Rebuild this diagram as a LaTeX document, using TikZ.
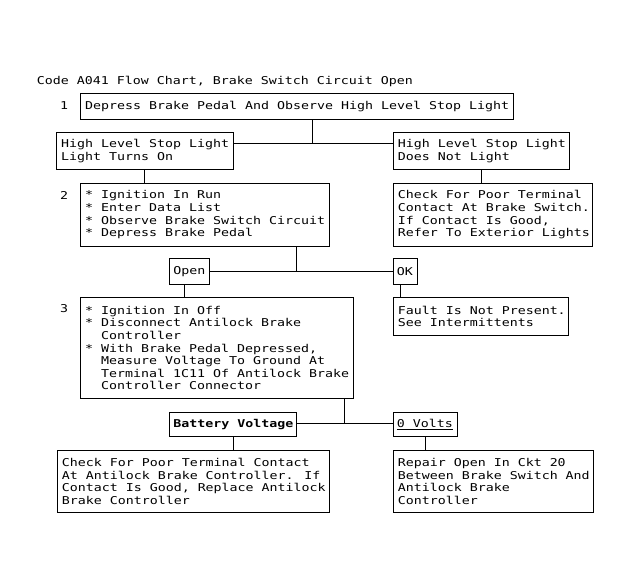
\documentclass[tikz,border=0pt]{standalone}
\usepackage{fontspec}
\newfontfamily\dfont[FakeStretch=1.23]{DejaVu Sans Mono}
\begin{document}
\begin{tikzpicture}[x=1pt,y=-1pt,
  box/.style={draw, line width=1pt, rectangle, inner sep=0pt, anchor=north west},
  txt/.style={font=\dfont\fontsize{10.8}{12.6}\selectfont, align=left, inner sep=0pt, anchor=west},
  wire/.style={line width=1pt}]
\useasboundingbox[fill=white] (0,0) rectangle (631,588);
% title and step numbers
\node[txt] (title) at (36.7,81) {Code A041 Flow Chart, Brake Switch Circuit Open};
\node[txt, anchor=center] (n1) at (64,106) {1};
\node[txt, anchor=center] (n2) at (64,195) {2};
\node[txt, anchor=center] (n3) at (64,309) {3};
% boxes
\node[box, minimum width=432.7, minimum height=26] (b1) at (80,93.3) {};
\node[box, minimum width=176.7, minimum height=37.6] (hl) at (56,131.7) {};
\node[box, minimum width=176.6, minimum height=37.6] (hr) at (392.7,131.7) {};
\node[box, minimum width=249, minimum height=63.3] (b2) at (80,182.7) {};
\node[box, minimum width=199.6, minimum height=63.3] (chk) at (392.7,182.7) {};
\node[box, minimum width=40, minimum height=26] (open) at (168.7,258.3) {};
\node[box, minimum width=24, minimum height=26] (ok) at (392.6,258.3) {};
\node[box, minimum width=273, minimum height=101.6] (b3) at (80,296.7) {};
\node[box, minimum width=175.7, minimum height=38.3] (fault) at (392.6,296.7) {};
\node[box, minimum width=127.7, minimum height=24.3] (batt) at (168.7,411.7) {};
\node[box, minimum width=64, minimum height=24.3] (zero) at (392.6,411.7) {};
\node[box, minimum width=272.4, minimum height=61.7] (bl) at (56.6,450) {};
\node[box, minimum width=200.4, minimum height=61.7] (br) at (392.6,450) {};
% texts
\node[txt] (t1) at ([xshift=5]b1.west) {Depress Brake Pedal And Observe High Level Stop Light};
\node[txt] (thl) at ([xshift=5]hl.west) {High Level Stop Light\\Light Turns On};
\node[txt] (thr) at ([xshift=5]hr.west) {High Level Stop Light\\Does Not Light};
\node[txt] (t2) at ([xshift=5]b2.west) {* Ignition In Run\\* Enter Data List\\* Observe Brake Switch Circuit\\* Depress Brake Pedal};
\node[txt] (tchk) at ([xshift=5]chk.west) {Check For Poor Terminal\\Contact At Brake Switch.\\If Contact Is Good,\\Refer To Exterior Lights};
\node[txt] (topen) at ([xshift=4.5]open.west) {Open};
\node[txt] (tok) at ([xshift=4]ok.west) {OK};
\node[txt] (t3) at ([xshift=5]b3.west) {* Ignition In Off\\* Disconnect Antilock Brake\\\hphantom{*\ }Controller\\* With Brake Pedal Depressed,\\\hphantom{*\ }Measure Voltage To Ground At\\\hphantom{*\ }Terminal 1C11 Of Antilock Brake\\\hphantom{*\ }Controller Connector};
\node[txt] (tfault) at ([xshift=5]fault.west) {Fault Is Not Present.\\See Intermittents};
\node[txt] (tbatt) at ([xshift=4.5]batt.west) {\bfseries Battery Voltage};
\node[txt] (tzero) at ([xshift=4]zero.west) {\underline{0 Volts}};
\node[txt] (tbl) at ([xshift=5]bl.west) {Check For Poor Terminal Contact\\At Antilock Brake Controller. If\\Contact Is Good, Replace Antilock\\Brake Controller};
\node[txt] (tbr) at ([xshift=5]br.west) {Repair Open In Ckt 20\\Between Brake Switch And\\Antilock Brake\\Controller};
% junctions
\coordinate (j1) at (312.3,144);
\coordinate (j2) at (296.4,271.7);
\coordinate (j3) at (344.5,423.8);
\coordinate (xo) at (184.3,0);
\coordinate (xk) at (400,0);
% connectors
\draw[wire] (b1.south -| j1) -- (j1);
\draw[wire] (hl.east |- j1) -- (hr.west |- j1);
\draw[wire] (hl.south) -- (hl.south |- b2.north);
\draw[wire] (hr.south) -- (hr.south |- chk.north);
\draw[wire] (b2.south -| j2) -- (j2);
\draw[wire] (open.east |- j2) -- (ok.west |- j2);
\draw[wire] (open.south -| xo) -- (b3.north -| xo);
\draw[wire] (ok.south -| xk) -- (fault.north -| xk);
\draw[wire] (b3.south -| j3) -- (j3);
\draw[wire] (batt.east |- j3) -- (zero.west |- j3);
\draw[wire] (batt.south) -- (batt.south |- bl.north);
\draw[wire] (zero.south) -- (zero.south |- br.north);
\end{tikzpicture}
\end{document}
